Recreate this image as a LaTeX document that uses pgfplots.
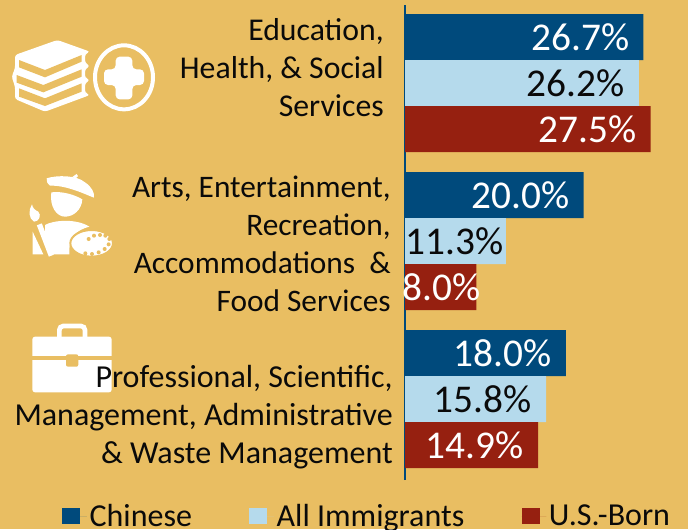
\documentclass[border=0pt]{standalone}
\usepackage{fontspec}
\setmainfont{Carlito}
\usepackage{pgfplots}
\pgfplotsset{compat=1.18}
\definecolor{bg}{HTML}{E9BE62}
\definecolor{navy}{HTML}{004A7C}
\definecolor{lightb}{HTML}{B5DAEC}
\definecolor{brick}{HTML}{962010}
\definecolor{ink}{HTML}{0A0A0A}
\begin{document}
\begin{tikzpicture}[x=0.75pt,y=-0.75pt]
\path[use as bounding box] (0,0) rectangle (688,529);
\fill[bg] (0,0) rectangle (688,529);
\coordinate (corner) at (405,480);

% books and cross
\begin{scope}[shift={(0,30)},x=0.25pt,y=-0.25pt]
\fill[white,rounded corners=2pt] (45,75)--(172,30)--(270,65)--(255,73)--(255,98)--(270,108)--(255,118)--(255,143)--(270,150)--(255,160)--(255,188)--(270,195)--(135,245)--(45,207)--(45,170)--(35,140)--(45,115)--cycle;
\fill[bg] (57,90)--(135,120)--(245,75)--(245,95)--(135,142)--(57,112)--cycle;
\fill[bg] (50,135)--(130,165)--(245,118)--(245,140)--(130,187)--(50,158)--cycle;
\fill[bg] (57,175)--(135,205)--(245,160)--(245,185)--(135,228)--(57,200)--cycle;
\draw[white,line width=3pt] (372,142) ellipse [x radius=87,y radius=96];
\fill[white,rounded corners=3pt] (347,80)--(397,80)--(397,118)--(432,118)--(432,165)--(397,165)--(397,208)--(347,208)--(347,165)--(312,165)--(312,118)--(347,118)--cycle;
\end{scope}

% painter
\begin{scope}[shift={(10,165)},x=0.25pt,y=-0.25pt]
\fill[white] (110,40) .. controls (140,30) and (200,30) .. (225,52) .. controls (245,65) and (255,85) .. (252,98) .. controls (230,90) and (170,60) .. (120,62) .. controls (112,55) and (108,48) .. (110,40)--cycle;
\fill[white] (188,35)--(200,27)--(204,33)--(195,42)--cycle;
\fill[white] (124,82) .. controls (160,78) and (195,90) .. (217,103) .. controls (215,135) and (190,155) .. (165,155) .. controls (140,155) and (118,125) .. (124,82)--cycle;
\fill[white] (105,180) .. controls (130,165) and (200,160) .. (238,185) .. controls (200,195) and (175,215) .. (178,268)--(125,268)--(105,210)--cycle;
\fill[white] (68,200)--(100,268)--(68,268)--cycle;
\fill[white] (66,118) .. controls (55,135) and (55,160) .. (72,170) .. controls (88,170) and (95,150) .. (85,140) .. controls (75,135) and (68,130) .. (66,118)--cycle;
\draw[white,line width=4pt] (88,178)--(124,272);
\fill[white,draw=bg,line width=1.5pt] (245,235) ellipse [x radius=64,y radius=40];
\foreach \a/\b in {226/265,246/267,266/262,284/252,296/238,298/222,286/212,270/210,252/212,236/222}
  \fill[bg] (\a,\b) circle [radius=6];
\end{scope}

% briefcase
\begin{scope}[shift={(10,315)},x=0.25pt,y=-0.25pt]
\draw[white,line width=3.5pt,rounded corners=3pt] (148,70)--(148,33)--(225,33)--(225,70);
\fill[white,rounded corners=2pt] (67,65) rectangle (305,232);
\fill[bg] (67,124) rectangle (305,136);
\fill[bg,rounded corners=1.5pt] (168,118) rectangle (205,155);
\end{scope}

\begin{axis}[
  at={(corner)}, anchor=south west,
  scale only axis, width=212.25pt, height=356.25pt,
  xbar=0pt, bar width=34.5pt,
  xmin=0, xmax=31.69,
  ymin=-0.5127, ymax=2.4937,
  axis x line=none, axis y line*=left,
  y axis line style={-,color=navy,line width=1.2pt},
  ytick=\empty, xtick=\empty,
  clip=false,
  nodes near coords={\pgfmathprintnumber[fixed,fixed zerofill,precision=1,assume math mode=true]{\pgfplotspointmeta}\%},
  point meta=explicit,
  nodes near coords style={anchor=east,font=\fontsize{29.5}{31}\selectfont,inner sep=0pt,xshift=-10.5pt},
  legend style={at={(axis description cs:-1.212,-0.0758)},anchor=west,draw=none,fill=none,
    font=\fontsize{24}{26}\selectfont,text=ink,
    legend columns=3,/tikz/every even column/.append style={column sep=41pt},
    inner sep=0pt},
  legend cell align=left,
  legend image code/.code={\fill[#1] (0pt,-6pt) rectangle (13.5pt,6pt); \path (0pt,0pt) -- (18.5pt,0pt);},
]
\addplot[draw=none,fill=navy,bar shift=34.5pt,nodes near coords style={text=white}] coordinates {(26.7,2)[26.7] (20.0,1)[20.0] (18.0,0)[18.0]};
\addplot[draw=none,fill=lightb,bar shift=0pt,nodes near coords style={text=ink},
  coordinate style/.condition={\coordindex==1}{xshift=9pt}] coordinates {(26.2,2)[26.2] (11.3,1)[11.3] (15.8,0)[15.8]};
\addplot[draw=none,fill=brick,bar shift=-34.5pt,nodes near coords style={text=white},
  coordinate style/.condition={\coordindex==1}{xshift=14pt}] coordinates {(27.5,2)[27.5] (8.0,1)[8.0] (14.9,0)[14.9]};
\legend{Chinese,All Immigrants,U.S.-Born}
\end{axis}

\begin{scope}[text=ink]
\node[anchor=east,align=right,inner sep=0pt,font=\fontsize{23.8}{28.5}\selectfont] at (384,68) {Education,\\Health, \& Social\\Services};
\node[anchor=east,align=right,inner sep=0pt,font=\fontsize{23.5}{28.5}\selectfont] at (391,243.5) {Arts, Entertainment,\\Recreation,\\Accommodations~~\&\\Food Services};
\node[anchor=east,align=right,inner sep=0pt,font=\fontsize{24}{28.5}\selectfont] at (393,417) {Professional, Scientific,\\Management, Administrative\\\& Waste Management};
\end{scope}
\end{tikzpicture}
\end{document}
